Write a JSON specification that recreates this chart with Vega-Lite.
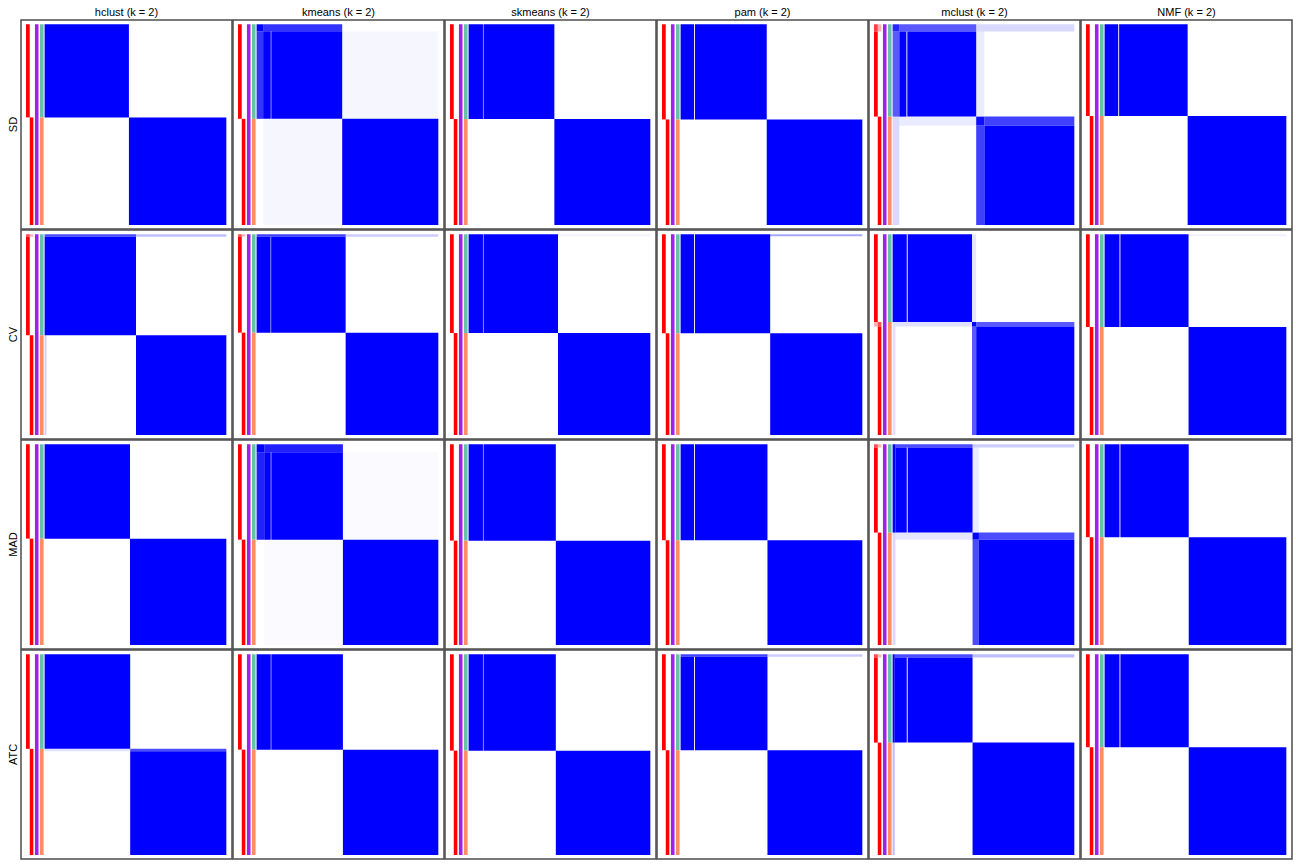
{
"$schema": "https://vega.github.io/schema/vega-lite/v6.json",
"padding": {"left": 7, "top": 7, "right": 3, "bottom": 3},
"background": "white",
"spacing": -2,
"data": {"values": [
{"a":"hclust (k = 2)","m":"SD","k":"prob","x":-0.1024,"x2":-0.0816,"y":0,"y2":0.464,"v":1},
{"a":"hclust (k = 2)","m":"SD","k":"prob","x":-0.0816,"x2":-0.0619,"y":0.464,"y2":1,"v":1},
{"a":"hclust (k = 2)","m":"SD","k":"sil","x":-0.0531,"x2":-0.0334,"y":0,"y2":1,"v":1},
{"a":"hclust (k = 2)","m":"SD","k":"c1","x":-0.0257,"x2":-0.0055,"y":0,"y2":0.464,"v":1},
{"a":"hclust (k = 2)","m":"SD","k":"c2","x":-0.0257,"x2":-0.0055,"y":0.464,"y2":1,"v":1},
{"a":"hclust (k = 2)","m":"SD","k":"cons","x":0,"x2":0.464,"y":0,"y2":0.464,"v":1},
{"a":"hclust (k = 2)","m":"SD","k":"cons","x":0.464,"x2":1,"y":0.464,"y2":1,"v":1},

{"a":"kmeans (k = 2)","m":"SD","k":"prob","x":-0.1024,"x2":-0.0816,"y":0,"y2":0.471,"v":1},
{"a":"kmeans (k = 2)","m":"SD","k":"prob","x":-0.0816,"x2":-0.0619,"y":0.471,"y2":1,"v":1},
{"a":"kmeans (k = 2)","m":"SD","k":"sil","x":-0.0531,"x2":-0.0334,"y":0,"y2":1,"v":1},
{"a":"kmeans (k = 2)","m":"SD","k":"c1","x":-0.0257,"x2":-0.0055,"y":0,"y2":0.471,"v":1},
{"a":"kmeans (k = 2)","m":"SD","k":"c2","x":-0.0257,"x2":-0.0055,"y":0.471,"y2":1,"v":1},
{"a":"kmeans (k = 2)","m":"SD","k":"cons","x":0,"x2":0.036,"y":0,"y2":0.035,"v":1},
{"a":"kmeans (k = 2)","m":"SD","k":"cons","x":0.036,"x2":0.471,"y":0,"y2":0.035,"v":0.8},
{"a":"kmeans (k = 2)","m":"SD","k":"cons","x":0,"x2":0.036,"y":0.035,"y2":0.471,"v":0.8},
{"a":"kmeans (k = 2)","m":"SD","k":"cons","x":0.036,"x2":0.078,"y":0.035,"y2":0.471,"v":1},
{"a":"kmeans (k = 2)","m":"SD","k":"cons","x":0.081,"x2":0.471,"y":0.035,"y2":0.471,"v":1},
{"a":"kmeans (k = 2)","m":"SD","k":"cons","x":0.471,"x2":1,"y":0.035,"y2":0.471,"v":0.035},
{"a":"kmeans (k = 2)","m":"SD","k":"cons","x":0.036,"x2":0.471,"y":0.471,"y2":1,"v":0.035},
{"a":"kmeans (k = 2)","m":"SD","k":"cons","x":0.471,"x2":1,"y":0.471,"y2":1,"v":1},

{"a":"skmeans (k = 2)","m":"SD","k":"prob","x":-0.1024,"x2":-0.0816,"y":0,"y2":0.472,"v":1},
{"a":"skmeans (k = 2)","m":"SD","k":"prob","x":-0.0816,"x2":-0.0619,"y":0.472,"y2":1,"v":1},
{"a":"skmeans (k = 2)","m":"SD","k":"sil","x":-0.0531,"x2":-0.0334,"y":0,"y2":1,"v":1},
{"a":"skmeans (k = 2)","m":"SD","k":"c1","x":-0.0257,"x2":-0.0055,"y":0,"y2":0.472,"v":1},
{"a":"skmeans (k = 2)","m":"SD","k":"c2","x":-0.0257,"x2":-0.0055,"y":0.472,"y2":1,"v":1},
{"a":"skmeans (k = 2)","m":"SD","k":"cons","x":0,"x2":0.079,"y":0,"y2":0.472,"v":1},
{"a":"skmeans (k = 2)","m":"SD","k":"cons","x":0.082,"x2":0.472,"y":0,"y2":0.472,"v":1},
{"a":"skmeans (k = 2)","m":"SD","k":"cons","x":0.472,"x2":1,"y":0.472,"y2":1,"v":1},

{"a":"pam (k = 2)","m":"SD","k":"prob","x":-0.1024,"x2":-0.0816,"y":0,"y2":0.474,"v":1},
{"a":"pam (k = 2)","m":"SD","k":"prob","x":-0.0816,"x2":-0.0619,"y":0.474,"y2":1,"v":1},
{"a":"pam (k = 2)","m":"SD","k":"sil","x":-0.0531,"x2":-0.0334,"y":0,"y2":1,"v":1},
{"a":"pam (k = 2)","m":"SD","k":"c1","x":-0.0257,"x2":-0.0055,"y":0,"y2":0.474,"v":1},
{"a":"pam (k = 2)","m":"SD","k":"c2","x":-0.0257,"x2":-0.0055,"y":0.474,"y2":1,"v":1},
{"a":"pam (k = 2)","m":"SD","k":"cons","x":0,"x2":0.074,"y":0,"y2":0.474,"v":1},
{"a":"pam (k = 2)","m":"SD","k":"cons","x":0.079,"x2":0.474,"y":0,"y2":0.474,"v":1},
{"a":"pam (k = 2)","m":"SD","k":"cons","x":0.474,"x2":1,"y":0.474,"y2":1,"v":1},

{"a":"mclust (k = 2)","m":"SD","k":"prob","x":-0.1024,"x2":-0.0816,"y":0,"y2":0.036,"v":0.75},
{"a":"mclust (k = 2)","m":"SD","k":"prob","x":-0.1024,"x2":-0.0816,"y":0.036,"y2":0.46,"v":1},
{"a":"mclust (k = 2)","m":"SD","k":"prob","x":-0.0816,"x2":-0.0619,"y":0,"y2":0.036,"v":0.3},
{"a":"mclust (k = 2)","m":"SD","k":"prob","x":-0.0816,"x2":-0.0619,"y":0.46,"y2":1,"v":1},
{"a":"mclust (k = 2)","m":"SD","k":"sil","x":-0.0531,"x2":-0.0334,"y":0,"y2":1,"v":1},
{"a":"mclust (k = 2)","m":"SD","k":"c1","x":-0.0257,"x2":-0.0055,"y":0,"y2":0.46,"v":1},
{"a":"mclust (k = 2)","m":"SD","k":"c2","x":-0.0257,"x2":-0.0055,"y":0.46,"y2":1,"v":1},
{"a":"mclust (k = 2)","m":"SD","k":"cons","x":0,"x2":0.037,"y":0,"y2":0.036,"v":0.85},
{"a":"mclust (k = 2)","m":"SD","k":"cons","x":0.037,"x2":0.46,"y":0,"y2":0.036,"v":0.65},
{"a":"mclust (k = 2)","m":"SD","k":"cons","x":0.46,"x2":1,"y":0,"y2":0.036,"v":0.15},
{"a":"mclust (k = 2)","m":"SD","k":"cons","x":0,"x2":0.037,"y":0.036,"y2":0.46,"v":0.65},
{"a":"mclust (k = 2)","m":"SD","k":"cons","x":0,"x2":0.037,"y":0.46,"y2":1,"v":0.15},
{"a":"mclust (k = 2)","m":"SD","k":"cons","x":0.037,"x2":0.076,"y":0.036,"y2":0.46,"v":1},
{"a":"mclust (k = 2)","m":"SD","k":"cons","x":0.081,"x2":0.46,"y":0.036,"y2":0.46,"v":1},
{"a":"mclust (k = 2)","m":"SD","k":"cons","x":0.037,"x2":0.46,"y":0.46,"y2":0.505,"v":0.08},
{"a":"mclust (k = 2)","m":"SD","k":"cons","x":0.46,"x2":0.505,"y":0.036,"y2":0.46,"v":0.08},
{"a":"mclust (k = 2)","m":"SD","k":"cons","x":0.46,"x2":0.505,"y":0.46,"y2":0.505,"v":0.95},
{"a":"mclust (k = 2)","m":"SD","k":"cons","x":0.505,"x2":1,"y":0.46,"y2":0.505,"v":0.75},
{"a":"mclust (k = 2)","m":"SD","k":"cons","x":0.46,"x2":0.505,"y":0.505,"y2":1,"v":0.75},
{"a":"mclust (k = 2)","m":"SD","k":"cons","x":0.505,"x2":1,"y":0.505,"y2":1,"v":1},

{"a":"NMF (k = 2)","m":"SD","k":"prob","x":-0.1024,"x2":-0.0816,"y":0,"y2":0.457,"v":1},
{"a":"NMF (k = 2)","m":"SD","k":"prob","x":-0.0816,"x2":-0.0619,"y":0.457,"y2":1,"v":1},
{"a":"NMF (k = 2)","m":"SD","k":"sil","x":-0.0531,"x2":-0.0334,"y":0,"y2":1,"v":1},
{"a":"NMF (k = 2)","m":"SD","k":"c1","x":-0.0257,"x2":-0.0055,"y":0,"y2":0.457,"v":1},
{"a":"NMF (k = 2)","m":"SD","k":"c2","x":-0.0257,"x2":-0.0055,"y":0.457,"y2":1,"v":1},
{"a":"NMF (k = 2)","m":"SD","k":"cons","x":0,"x2":0.075,"y":0,"y2":0.457,"v":1},
{"a":"NMF (k = 2)","m":"SD","k":"cons","x":0.080,"x2":0.457,"y":0,"y2":0.457,"v":1},
{"a":"NMF (k = 2)","m":"SD","k":"cons","x":0.457,"x2":1,"y":0.457,"y2":1,"v":1},

{"a":"hclust (k = 2)","m":"CV","k":"prob","x":-0.1024,"x2":-0.0816,"y":0,"y2":0.012,"v":0.7},
{"a":"hclust (k = 2)","m":"CV","k":"prob","x":-0.1024,"x2":-0.0816,"y":0.012,"y2":0.503,"v":1},
{"a":"hclust (k = 2)","m":"CV","k":"prob","x":-0.0816,"x2":-0.0619,"y":0,"y2":0.012,"v":0.3},
{"a":"hclust (k = 2)","m":"CV","k":"prob","x":-0.0816,"x2":-0.0619,"y":0.503,"y2":1,"v":1},
{"a":"hclust (k = 2)","m":"CV","k":"sil","x":-0.0531,"x2":-0.0334,"y":0,"y2":1,"v":1},
{"a":"hclust (k = 2)","m":"CV","k":"c1","x":-0.0257,"x2":-0.0055,"y":0,"y2":0.503,"v":1},
{"a":"hclust (k = 2)","m":"CV","k":"c2","x":-0.0257,"x2":-0.0055,"y":0.503,"y2":1,"v":1},
{"a":"hclust (k = 2)","m":"CV","k":"cons","x":0,"x2":0.503,"y":0,"y2":0.012,"v":0.7},
{"a":"hclust (k = 2)","m":"CV","k":"cons","x":0.503,"x2":1,"y":0,"y2":0.012,"v":0.25},
{"a":"hclust (k = 2)","m":"CV","k":"cons","x":0,"x2":0.503,"y":0.012,"y2":0.503,"v":1},
{"a":"hclust (k = 2)","m":"CV","k":"cons","x":0,"x2":0.01,"y":0.503,"y2":1,"v":0.2},
{"a":"hclust (k = 2)","m":"CV","k":"cons","x":0.503,"x2":1,"y":0.503,"y2":1,"v":1},

{"a":"kmeans (k = 2)","m":"CV","k":"prob","x":-0.1024,"x2":-0.0816,"y":0,"y2":0.012,"v":0.7},
{"a":"kmeans (k = 2)","m":"CV","k":"prob","x":-0.1024,"x2":-0.0816,"y":0.012,"y2":0.49,"v":1},
{"a":"kmeans (k = 2)","m":"CV","k":"prob","x":-0.0816,"x2":-0.0619,"y":0,"y2":0.012,"v":0.3},
{"a":"kmeans (k = 2)","m":"CV","k":"prob","x":-0.0816,"x2":-0.0619,"y":0.49,"y2":1,"v":1},
{"a":"kmeans (k = 2)","m":"CV","k":"sil","x":-0.0531,"x2":-0.0334,"y":0,"y2":1,"v":1},
{"a":"kmeans (k = 2)","m":"CV","k":"c1","x":-0.0257,"x2":-0.0055,"y":0,"y2":0.49,"v":1},
{"a":"kmeans (k = 2)","m":"CV","k":"c2","x":-0.0257,"x2":-0.0055,"y":0.49,"y2":1,"v":1},
{"a":"kmeans (k = 2)","m":"CV","k":"cons","x":0,"x2":0.49,"y":0,"y2":0.012,"v":0.75},
{"a":"kmeans (k = 2)","m":"CV","k":"cons","x":0.49,"x2":1,"y":0,"y2":0.012,"v":0.2},
{"a":"kmeans (k = 2)","m":"CV","k":"cons","x":0,"x2":0.077,"y":0.012,"y2":0.49,"v":1},
{"a":"kmeans (k = 2)","m":"CV","k":"cons","x":0.080,"x2":0.49,"y":0.012,"y2":0.49,"v":1},
{"a":"kmeans (k = 2)","m":"CV","k":"cons","x":0.49,"x2":1,"y":0.49,"y2":1,"v":1},

{"a":"skmeans (k = 2)","m":"CV","k":"prob","x":-0.1024,"x2":-0.0816,"y":0,"y2":0.492,"v":1},
{"a":"skmeans (k = 2)","m":"CV","k":"prob","x":-0.0816,"x2":-0.0619,"y":0.492,"y2":1,"v":1},
{"a":"skmeans (k = 2)","m":"CV","k":"sil","x":-0.0531,"x2":-0.0334,"y":0,"y2":1,"v":1},
{"a":"skmeans (k = 2)","m":"CV","k":"c1","x":-0.0257,"x2":-0.0055,"y":0,"y2":0.492,"v":1},
{"a":"skmeans (k = 2)","m":"CV","k":"c2","x":-0.0257,"x2":-0.0055,"y":0.492,"y2":1,"v":1},
{"a":"skmeans (k = 2)","m":"CV","k":"cons","x":0.492,"x2":1,"y":0,"y2":0.01,"v":0.05},
{"a":"skmeans (k = 2)","m":"CV","k":"cons","x":0,"x2":0.079,"y":0,"y2":0.492,"v":1},
{"a":"skmeans (k = 2)","m":"CV","k":"cons","x":0.082,"x2":0.492,"y":0,"y2":0.492,"v":1},
{"a":"skmeans (k = 2)","m":"CV","k":"cons","x":0.492,"x2":1,"y":0.492,"y2":1,"v":1},

{"a":"pam (k = 2)","m":"CV","k":"prob","x":-0.1024,"x2":-0.0816,"y":0,"y2":0.493,"v":1},
{"a":"pam (k = 2)","m":"CV","k":"prob","x":-0.0816,"x2":-0.0619,"y":0.493,"y2":1,"v":1},
{"a":"pam (k = 2)","m":"CV","k":"sil","x":-0.0531,"x2":-0.0334,"y":0,"y2":1,"v":1},
{"a":"pam (k = 2)","m":"CV","k":"c1","x":-0.0257,"x2":-0.0055,"y":0,"y2":0.493,"v":1},
{"a":"pam (k = 2)","m":"CV","k":"c2","x":-0.0257,"x2":-0.0055,"y":0.493,"y2":1,"v":1},
{"a":"pam (k = 2)","m":"CV","k":"cons","x":0.493,"x2":1,"y":0,"y2":0.01,"v":0.35},
{"a":"pam (k = 2)","m":"CV","k":"cons","x":0,"x2":0.074,"y":0,"y2":0.493,"v":1},
{"a":"pam (k = 2)","m":"CV","k":"cons","x":0.079,"x2":0.493,"y":0,"y2":0.493,"v":1},
{"a":"pam (k = 2)","m":"CV","k":"cons","x":0.493,"x2":1,"y":0.493,"y2":1,"v":1},

{"a":"mclust (k = 2)","m":"CV","k":"prob","x":-0.1024,"x2":-0.0816,"y":0,"y2":0.437,"v":1},
{"a":"mclust (k = 2)","m":"CV","k":"prob","x":-0.1024,"x2":-0.0816,"y":0.437,"y2":0.46,"v":0.3},
{"a":"mclust (k = 2)","m":"CV","k":"prob","x":-0.0816,"x2":-0.0619,"y":0.437,"y2":0.46,"v":0.7},
{"a":"mclust (k = 2)","m":"CV","k":"prob","x":-0.0816,"x2":-0.0619,"y":0.46,"y2":1,"v":1},
{"a":"mclust (k = 2)","m":"CV","k":"sil","x":-0.0531,"x2":-0.0334,"y":0,"y2":1,"v":1},
{"a":"mclust (k = 2)","m":"CV","k":"c1","x":-0.0257,"x2":-0.0055,"y":0,"y2":0.437,"v":1},
{"a":"mclust (k = 2)","m":"CV","k":"c2","x":-0.0257,"x2":-0.0055,"y":0.437,"y2":1,"v":1},
{"a":"mclust (k = 2)","m":"CV","k":"cons","x":0,"x2":0.078,"y":0,"y2":0.437,"v":1},
{"a":"mclust (k = 2)","m":"CV","k":"cons","x":0.083,"x2":0.437,"y":0,"y2":0.437,"v":1},
{"a":"mclust (k = 2)","m":"CV","k":"cons","x":0,"x2":0.437,"y":0.437,"y2":0.46,"v":0.12},
{"a":"mclust (k = 2)","m":"CV","k":"cons","x":0.437,"x2":0.46,"y":0,"y2":0.437,"v":0.1},
{"a":"mclust (k = 2)","m":"CV","k":"cons","x":0.437,"x2":0.46,"y":0.437,"y2":0.46,"v":1},
{"a":"mclust (k = 2)","m":"CV","k":"cons","x":0.46,"x2":1,"y":0.437,"y2":0.46,"v":0.65},
{"a":"mclust (k = 2)","m":"CV","k":"cons","x":0.437,"x2":0.46,"y":0.46,"y2":1,"v":0.65},
{"a":"mclust (k = 2)","m":"CV","k":"cons","x":0.46,"x2":1,"y":0.46,"y2":1,"v":1},
{"a":"mclust (k = 2)","m":"CV","k":"cons","x":0,"x2":0.016,"y":0.46,"y2":1,"v":0.12},

{"a":"NMF (k = 2)","m":"CV","k":"prob","x":-0.1024,"x2":-0.0816,"y":0,"y2":0.462,"v":1},
{"a":"NMF (k = 2)","m":"CV","k":"prob","x":-0.0816,"x2":-0.0619,"y":0.462,"y2":1,"v":1},
{"a":"NMF (k = 2)","m":"CV","k":"sil","x":-0.0531,"x2":-0.0334,"y":0,"y2":1,"v":1},
{"a":"NMF (k = 2)","m":"CV","k":"c1","x":-0.0257,"x2":-0.0055,"y":0,"y2":0.462,"v":1},
{"a":"NMF (k = 2)","m":"CV","k":"c2","x":-0.0257,"x2":-0.0055,"y":0.462,"y2":1,"v":1},
{"a":"NMF (k = 2)","m":"CV","k":"cons","x":0.462,"x2":1,"y":0,"y2":0.01,"v":0.06},
{"a":"NMF (k = 2)","m":"CV","k":"cons","x":0,"x2":0.082,"y":0,"y2":0.462,"v":1},
{"a":"NMF (k = 2)","m":"CV","k":"cons","x":0.087,"x2":0.462,"y":0,"y2":0.462,"v":1},
{"a":"NMF (k = 2)","m":"CV","k":"cons","x":0.462,"x2":1,"y":0.462,"y2":1,"v":1},

{"a":"hclust (k = 2)","m":"MAD","k":"prob","x":-0.1024,"x2":-0.0816,"y":0,"y2":0.47,"v":1},
{"a":"hclust (k = 2)","m":"MAD","k":"prob","x":-0.0816,"x2":-0.0619,"y":0.47,"y2":1,"v":1},
{"a":"hclust (k = 2)","m":"MAD","k":"sil","x":-0.0531,"x2":-0.0334,"y":0,"y2":1,"v":1},
{"a":"hclust (k = 2)","m":"MAD","k":"c1","x":-0.0257,"x2":-0.0055,"y":0,"y2":0.47,"v":1},
{"a":"hclust (k = 2)","m":"MAD","k":"c2","x":-0.0257,"x2":-0.0055,"y":0.47,"y2":1,"v":1},
{"a":"hclust (k = 2)","m":"MAD","k":"cons","x":0,"x2":0.47,"y":0,"y2":0.47,"v":1},
{"a":"hclust (k = 2)","m":"MAD","k":"cons","x":0.47,"x2":1,"y":0.47,"y2":1,"v":1},

{"a":"kmeans (k = 2)","m":"MAD","k":"prob","x":-0.1024,"x2":-0.0816,"y":0,"y2":0.475,"v":1},
{"a":"kmeans (k = 2)","m":"MAD","k":"prob","x":-0.0816,"x2":-0.0619,"y":0.475,"y2":1,"v":1},
{"a":"kmeans (k = 2)","m":"MAD","k":"sil","x":-0.0531,"x2":-0.0334,"y":0,"y2":1,"v":1},
{"a":"kmeans (k = 2)","m":"MAD","k":"c1","x":-0.0257,"x2":-0.0055,"y":0,"y2":0.475,"v":1},
{"a":"kmeans (k = 2)","m":"MAD","k":"c2","x":-0.0257,"x2":-0.0055,"y":0.475,"y2":1,"v":1},
{"a":"kmeans (k = 2)","m":"MAD","k":"cons","x":0,"x2":0.042,"y":0,"y2":0.04,"v":1},
{"a":"kmeans (k = 2)","m":"MAD","k":"cons","x":0.042,"x2":0.475,"y":0,"y2":0.04,"v":0.87},
{"a":"kmeans (k = 2)","m":"MAD","k":"cons","x":0,"x2":0.042,"y":0.04,"y2":0.475,"v":0.87},
{"a":"kmeans (k = 2)","m":"MAD","k":"cons","x":0.042,"x2":0.078,"y":0.04,"y2":0.475,"v":1},
{"a":"kmeans (k = 2)","m":"MAD","k":"cons","x":0.081,"x2":0.475,"y":0.04,"y2":0.475,"v":1},
{"a":"kmeans (k = 2)","m":"MAD","k":"cons","x":0.475,"x2":1,"y":0.04,"y2":0.475,"v":0.015},
{"a":"kmeans (k = 2)","m":"MAD","k":"cons","x":0.042,"x2":0.475,"y":0.475,"y2":1,"v":0.015},
{"a":"kmeans (k = 2)","m":"MAD","k":"cons","x":0.475,"x2":1,"y":0.475,"y2":1,"v":1},

{"a":"skmeans (k = 2)","m":"MAD","k":"prob","x":-0.1024,"x2":-0.0816,"y":0,"y2":0.48,"v":1},
{"a":"skmeans (k = 2)","m":"MAD","k":"prob","x":-0.0816,"x2":-0.0619,"y":0.48,"y2":1,"v":1},
{"a":"skmeans (k = 2)","m":"MAD","k":"sil","x":-0.0531,"x2":-0.0334,"y":0,"y2":1,"v":1},
{"a":"skmeans (k = 2)","m":"MAD","k":"c1","x":-0.0257,"x2":-0.0055,"y":0,"y2":0.48,"v":1},
{"a":"skmeans (k = 2)","m":"MAD","k":"c2","x":-0.0257,"x2":-0.0055,"y":0.48,"y2":1,"v":1},
{"a":"skmeans (k = 2)","m":"MAD","k":"cons","x":0,"x2":0.079,"y":0,"y2":0.48,"v":1},
{"a":"skmeans (k = 2)","m":"MAD","k":"cons","x":0.082,"x2":0.48,"y":0,"y2":0.48,"v":1},
{"a":"skmeans (k = 2)","m":"MAD","k":"cons","x":0.48,"x2":1,"y":0.48,"y2":1,"v":1},

{"a":"pam (k = 2)","m":"MAD","k":"prob","x":-0.1024,"x2":-0.0816,"y":0,"y2":0.478,"v":1},
{"a":"pam (k = 2)","m":"MAD","k":"prob","x":-0.0816,"x2":-0.0619,"y":0.478,"y2":1,"v":1},
{"a":"pam (k = 2)","m":"MAD","k":"sil","x":-0.0531,"x2":-0.0334,"y":0,"y2":1,"v":1},
{"a":"pam (k = 2)","m":"MAD","k":"c1","x":-0.0257,"x2":-0.0055,"y":0,"y2":0.478,"v":1},
{"a":"pam (k = 2)","m":"MAD","k":"c2","x":-0.0257,"x2":-0.0055,"y":0.478,"y2":1,"v":1},
{"a":"pam (k = 2)","m":"MAD","k":"cons","x":0,"x2":0.074,"y":0,"y2":0.478,"v":1},
{"a":"pam (k = 2)","m":"MAD","k":"cons","x":0.079,"x2":0.478,"y":0,"y2":0.478,"v":1},
{"a":"pam (k = 2)","m":"MAD","k":"cons","x":0.478,"x2":1,"y":0.478,"y2":1,"v":1},

{"a":"mclust (k = 2)","m":"MAD","k":"prob","x":-0.1024,"x2":-0.0816,"y":0,"y2":0.016,"v":0.7},
{"a":"mclust (k = 2)","m":"MAD","k":"prob","x":-0.1024,"x2":-0.0816,"y":0.016,"y2":0.44,"v":1},
{"a":"mclust (k = 2)","m":"MAD","k":"prob","x":-0.0816,"x2":-0.0619,"y":0,"y2":0.016,"v":0.3},
{"a":"mclust (k = 2)","m":"MAD","k":"prob","x":-0.0816,"x2":-0.0619,"y":0.44,"y2":1,"v":1},
{"a":"mclust (k = 2)","m":"MAD","k":"sil","x":-0.0531,"x2":-0.0334,"y":0,"y2":1,"v":1},
{"a":"mclust (k = 2)","m":"MAD","k":"c1","x":-0.0257,"x2":-0.0055,"y":0,"y2":0.44,"v":1},
{"a":"mclust (k = 2)","m":"MAD","k":"c2","x":-0.0257,"x2":-0.0055,"y":0.44,"y2":1,"v":1},
{"a":"mclust (k = 2)","m":"MAD","k":"cons","x":0,"x2":0.016,"y":0,"y2":0.44,"v":1},
{"a":"mclust (k = 2)","m":"MAD","k":"cons","x":0.016,"x2":0.44,"y":0,"y2":0.016,"v":0.7},
{"a":"mclust (k = 2)","m":"MAD","k":"cons","x":0.44,"x2":1,"y":0,"y2":0.016,"v":0.2},
{"a":"mclust (k = 2)","m":"MAD","k":"cons","x":0.016,"x2":0.078,"y":0.016,"y2":0.44,"v":1},
{"a":"mclust (k = 2)","m":"MAD","k":"cons","x":0.083,"x2":0.44,"y":0.016,"y2":0.44,"v":1},
{"a":"mclust (k = 2)","m":"MAD","k":"cons","x":0,"x2":0.016,"y":0.44,"y2":1,"v":0.15},
{"a":"mclust (k = 2)","m":"MAD","k":"cons","x":0.016,"x2":0.44,"y":0.44,"y2":0.475,"v":0.1},
{"a":"mclust (k = 2)","m":"MAD","k":"cons","x":0.44,"x2":0.475,"y":0.016,"y2":0.44,"v":0.08},
{"a":"mclust (k = 2)","m":"MAD","k":"cons","x":0.44,"x2":0.475,"y":0.44,"y2":0.475,"v":1},
{"a":"mclust (k = 2)","m":"MAD","k":"cons","x":0.475,"x2":1,"y":0.44,"y2":0.475,"v":0.7},
{"a":"mclust (k = 2)","m":"MAD","k":"cons","x":0.44,"x2":0.475,"y":0.475,"y2":1,"v":0.7},
{"a":"mclust (k = 2)","m":"MAD","k":"cons","x":0.475,"x2":1,"y":0.475,"y2":1,"v":1},

{"a":"NMF (k = 2)","m":"MAD","k":"prob","x":-0.1024,"x2":-0.0816,"y":0,"y2":0.463,"v":1},
{"a":"NMF (k = 2)","m":"MAD","k":"prob","x":-0.0816,"x2":-0.0619,"y":0.463,"y2":1,"v":1},
{"a":"NMF (k = 2)","m":"MAD","k":"sil","x":-0.0531,"x2":-0.0334,"y":0,"y2":1,"v":1},
{"a":"NMF (k = 2)","m":"MAD","k":"c1","x":-0.0257,"x2":-0.0055,"y":0,"y2":0.463,"v":1},
{"a":"NMF (k = 2)","m":"MAD","k":"c2","x":-0.0257,"x2":-0.0055,"y":0.463,"y2":1,"v":1},
{"a":"NMF (k = 2)","m":"MAD","k":"cons","x":0,"x2":0.082,"y":0,"y2":0.463,"v":1},
{"a":"NMF (k = 2)","m":"MAD","k":"cons","x":0.087,"x2":0.463,"y":0,"y2":0.463,"v":1},
{"a":"NMF (k = 2)","m":"MAD","k":"cons","x":0.463,"x2":1,"y":0.463,"y2":1,"v":1},

{"a":"hclust (k = 2)","m":"ATC","k":"prob","x":-0.1024,"x2":-0.0816,"y":0,"y2":0.471,"v":1},
{"a":"hclust (k = 2)","m":"ATC","k":"prob","x":-0.0816,"x2":-0.0619,"y":0.471,"y2":1,"v":1},
{"a":"hclust (k = 2)","m":"ATC","k":"sil","x":-0.0531,"x2":-0.0334,"y":0,"y2":1,"v":1},
{"a":"hclust (k = 2)","m":"ATC","k":"c1","x":-0.0257,"x2":-0.0055,"y":0,"y2":0.471,"v":1},
{"a":"hclust (k = 2)","m":"ATC","k":"c2","x":-0.0257,"x2":-0.0055,"y":0.471,"y2":1,"v":1},
{"a":"hclust (k = 2)","m":"ATC","k":"cons","x":0,"x2":0.471,"y":0,"y2":0.471,"v":1},
{"a":"hclust (k = 2)","m":"ATC","k":"cons","x":0,"x2":0.471,"y":0.471,"y2":0.483,"v":0.12},
{"a":"hclust (k = 2)","m":"ATC","k":"cons","x":0.471,"x2":1,"y":0.471,"y2":0.483,"v":0.7},
{"a":"hclust (k = 2)","m":"ATC","k":"cons","x":0.471,"x2":1,"y":0.483,"y2":1,"v":1},

{"a":"kmeans (k = 2)","m":"ATC","k":"prob","x":-0.1024,"x2":-0.0816,"y":0,"y2":0.475,"v":1},
{"a":"kmeans (k = 2)","m":"ATC","k":"prob","x":-0.0816,"x2":-0.0619,"y":0.475,"y2":1,"v":1},
{"a":"kmeans (k = 2)","m":"ATC","k":"sil","x":-0.0531,"x2":-0.0334,"y":0,"y2":1,"v":1},
{"a":"kmeans (k = 2)","m":"ATC","k":"c1","x":-0.0257,"x2":-0.0055,"y":0,"y2":0.475,"v":1},
{"a":"kmeans (k = 2)","m":"ATC","k":"c2","x":-0.0257,"x2":-0.0055,"y":0.475,"y2":1,"v":1},
{"a":"kmeans (k = 2)","m":"ATC","k":"cons","x":0,"x2":0.078,"y":0,"y2":0.475,"v":1},
{"a":"kmeans (k = 2)","m":"ATC","k":"cons","x":0.081,"x2":0.475,"y":0,"y2":0.475,"v":1},
{"a":"kmeans (k = 2)","m":"ATC","k":"cons","x":0.475,"x2":1,"y":0.475,"y2":1,"v":1},

{"a":"skmeans (k = 2)","m":"ATC","k":"prob","x":-0.1024,"x2":-0.0816,"y":0,"y2":0.48,"v":1},
{"a":"skmeans (k = 2)","m":"ATC","k":"prob","x":-0.0816,"x2":-0.0619,"y":0.48,"y2":1,"v":1},
{"a":"skmeans (k = 2)","m":"ATC","k":"sil","x":-0.0531,"x2":-0.0334,"y":0,"y2":1,"v":1},
{"a":"skmeans (k = 2)","m":"ATC","k":"c1","x":-0.0257,"x2":-0.0055,"y":0,"y2":0.48,"v":1},
{"a":"skmeans (k = 2)","m":"ATC","k":"c2","x":-0.0257,"x2":-0.0055,"y":0.48,"y2":1,"v":1},
{"a":"skmeans (k = 2)","m":"ATC","k":"cons","x":0,"x2":0.079,"y":0,"y2":0.48,"v":1},
{"a":"skmeans (k = 2)","m":"ATC","k":"cons","x":0.082,"x2":0.48,"y":0,"y2":0.48,"v":1},
{"a":"skmeans (k = 2)","m":"ATC","k":"cons","x":0.48,"x2":1,"y":0.48,"y2":1,"v":1},

{"a":"pam (k = 2)","m":"ATC","k":"prob","x":-0.1024,"x2":-0.0816,"y":0,"y2":0.478,"v":1},
{"a":"pam (k = 2)","m":"ATC","k":"prob","x":-0.0816,"x2":-0.0619,"y":0.478,"y2":1,"v":1},
{"a":"pam (k = 2)","m":"ATC","k":"sil","x":-0.0531,"x2":-0.0334,"y":0,"y2":1,"v":1},
{"a":"pam (k = 2)","m":"ATC","k":"c1","x":-0.0257,"x2":-0.0055,"y":0,"y2":0.478,"v":1},
{"a":"pam (k = 2)","m":"ATC","k":"c2","x":-0.0257,"x2":-0.0055,"y":0.478,"y2":1,"v":1},
{"a":"pam (k = 2)","m":"ATC","k":"cons","x":0,"x2":0.478,"y":0,"y2":0.012,"v":0.75},
{"a":"pam (k = 2)","m":"ATC","k":"cons","x":0.478,"x2":1,"y":0,"y2":0.012,"v":0.2},
{"a":"pam (k = 2)","m":"ATC","k":"cons","x":0,"x2":0.074,"y":0.012,"y2":0.478,"v":1},
{"a":"pam (k = 2)","m":"ATC","k":"cons","x":0.079,"x2":0.478,"y":0.012,"y2":0.478,"v":1},
{"a":"pam (k = 2)","m":"ATC","k":"cons","x":0.478,"x2":1,"y":0.478,"y2":1,"v":1},

{"a":"mclust (k = 2)","m":"ATC","k":"prob","x":-0.1024,"x2":-0.0816,"y":0,"y2":0.016,"v":0.7},
{"a":"mclust (k = 2)","m":"ATC","k":"prob","x":-0.1024,"x2":-0.0816,"y":0.016,"y2":0.44,"v":1},
{"a":"mclust (k = 2)","m":"ATC","k":"prob","x":-0.0816,"x2":-0.0619,"y":0,"y2":0.016,"v":0.3},
{"a":"mclust (k = 2)","m":"ATC","k":"prob","x":-0.0816,"x2":-0.0619,"y":0.44,"y2":1,"v":1},
{"a":"mclust (k = 2)","m":"ATC","k":"sil","x":-0.0531,"x2":-0.0334,"y":0,"y2":1,"v":1},
{"a":"mclust (k = 2)","m":"ATC","k":"c1","x":-0.0257,"x2":-0.0055,"y":0,"y2":0.44,"v":1},
{"a":"mclust (k = 2)","m":"ATC","k":"c2","x":-0.0257,"x2":-0.0055,"y":0.44,"y2":1,"v":1},
{"a":"mclust (k = 2)","m":"ATC","k":"cons","x":0,"x2":0.012,"y":0,"y2":0.44,"v":1},
{"a":"mclust (k = 2)","m":"ATC","k":"cons","x":0.012,"x2":0.44,"y":0,"y2":0.016,"v":0.7},
{"a":"mclust (k = 2)","m":"ATC","k":"cons","x":0.44,"x2":1,"y":0,"y2":0.016,"v":0.25},
{"a":"mclust (k = 2)","m":"ATC","k":"cons","x":0,"x2":0.012,"y":0.44,"y2":1,"v":0.25},
{"a":"mclust (k = 2)","m":"ATC","k":"cons","x":0.012,"x2":0.078,"y":0.016,"y2":0.44,"v":1},
{"a":"mclust (k = 2)","m":"ATC","k":"cons","x":0.083,"x2":0.44,"y":0.016,"y2":0.44,"v":1},
{"a":"mclust (k = 2)","m":"ATC","k":"cons","x":0.44,"x2":1,"y":0.44,"y2":1,"v":1},

{"a":"NMF (k = 2)","m":"ATC","k":"prob","x":-0.1024,"x2":-0.0816,"y":0,"y2":0.463,"v":1},
{"a":"NMF (k = 2)","m":"ATC","k":"prob","x":-0.0816,"x2":-0.0619,"y":0.463,"y2":1,"v":1},
{"a":"NMF (k = 2)","m":"ATC","k":"sil","x":-0.0531,"x2":-0.0334,"y":0,"y2":1,"v":1},
{"a":"NMF (k = 2)","m":"ATC","k":"c1","x":-0.0257,"x2":-0.0055,"y":0,"y2":0.463,"v":1},
{"a":"NMF (k = 2)","m":"ATC","k":"c2","x":-0.0257,"x2":-0.0055,"y":0.463,"y2":1,"v":1},
{"a":"NMF (k = 2)","m":"ATC","k":"cons","x":0,"x2":0.082,"y":0,"y2":0.463,"v":1},
{"a":"NMF (k = 2)","m":"ATC","k":"cons","x":0.087,"x2":0.463,"y":0,"y2":0.463,"v":1},
{"a":"NMF (k = 2)","m":"ATC","k":"cons","x":0.463,"x2":1,"y":0.463,"y2":1,"v":1}
]},
"facet": {
  "row": {"field": "m", "type": "nominal", "sort": ["SD", "CV", "MAD", "ATC"],
    "header": {"title": null, "labelAngle": -90, "labelOrient": "left", "labelAnchor": "middle", "labelFontSize": 11, "labelFont": "Liberation Sans", "labelColor": "black", "labelPadding": -5}},
  "column": {"field": "a", "type": "nominal", "sort": ["hclust (k = 2)", "kmeans (k = 2)", "skmeans (k = 2)", "pam (k = 2)", "mclust (k = 2)", "NMF (k = 2)"],
    "header": {"title": null, "labelFontSize": 11, "labelFont": "Liberation Sans", "labelColor": "black", "labelPadding": 1}}
},
"spec": {
  "width": 211,
  "height": 209,
  "mark": {"type": "rect"},
  "encoding": {
    "x": {"field": "x", "type": "quantitative", "scale": {"domain": [-0.1298, 1.0312], "nice": false, "zero": false}, "axis": null},
    "x2": {"field": "x2"},
    "y": {"field": "y", "type": "quantitative", "scale": {"domain": [-0.0213, 1.0198], "nice": false, "zero": false, "reverse": true}, "axis": null},
    "y2": {"field": "y2"},
    "color": {"field": "k", "type": "nominal", "scale": {"domain": ["prob", "sil", "c1", "c2", "cons"], "range": ["#FF0000", "#A020F0", "#66C2A5", "#FC8D62", "#0000FF"]}, "legend": null},
    "opacity": {"field": "v", "type": "quantitative", "scale": {"domain": [0, 1], "range": [0, 1]}, "legend": null}
  }
},
"config": {"view": {"stroke": "#4d4d4d", "strokeWidth": 1.5, "fill": "white"}}
}
